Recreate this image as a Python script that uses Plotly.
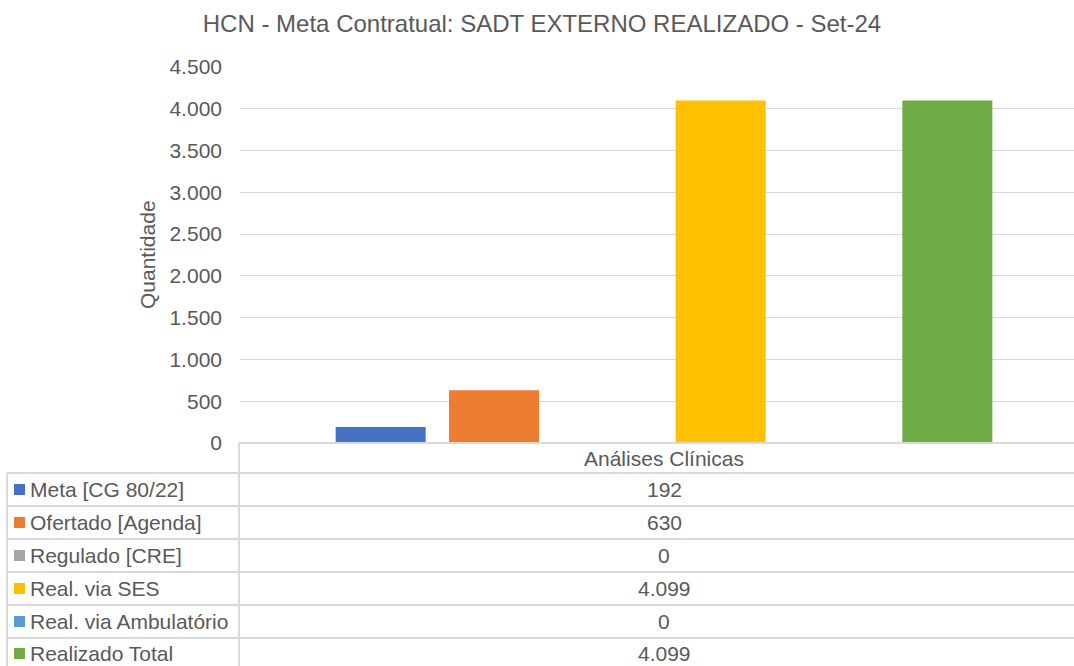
import plotly.graph_objects as go

# ---- data ----
category = "Análises Clínicas"
series_names = ["Meta [CG 80/22]", "Ofertado [Agenda]", "Regulado [CRE]",
                "Real. via SES", "Real. via Ambulatório", "Realizado Total"]
series_values = [192, 630, 0, 4099, 0, 4099]
series_colors = ["#4472C4", "#ED7D31", "#A5A5A5", "#FFC000", "#5B9BD5", "#70AD47"]
y_tick_values = [0, 500, 1000, 1500, 2000, 2500, 3000, 3500, 4000, 4500]
title_text = "HCN - Meta Contratual: SADT EXTERNO REALIZADO - Set-24"
y_title = "Quantidade"

W, H = 1074, 666
L, R, T, B = 240, 0, 67, 223
PW, PH = W - L - R, H - T - B
FONT = "Liberation Sans, Arial, sans-serif"
TXT = "#595959"
LINE = "#D9D9D9"
FS = 21


def px(x):
    return (x - L) / PW


def py(y):
    return (H - B - y) / PH


def fmt(v):
    return f"{v:,}".replace(",", ".")


fig = go.Figure()
for name, val, col in zip(series_names, series_values, series_colors):
    fig.add_trace(go.Bar(x=[category], y=[val], name=name, marker_color=col,
                         marker_line_width=0, showlegend=False,
                         hovertemplate=name + ": %{y}<extra></extra>"))

shapes = []
annotations = []

# table horizontal lines
row_lines = [473, 506, 539, 572, 605, 638]
shapes.append(dict(type="line", xref="paper", yref="paper", x0=px(239), x1=1,
                   y0=py(443), y1=py(443), line=dict(color=LINE, width=2)))
for yl in row_lines:
    shapes.append(dict(type="line", xref="paper", yref="paper", x0=px(7), x1=1,
                       y0=py(yl), y1=py(yl), line=dict(color=LINE, width=2)))
# vertical lines
shapes.append(dict(type="line", xref="paper", yref="paper", x0=px(239), x1=px(239),
                   y0=py(443), y1=py(668), line=dict(color=LINE, width=2)))
shapes.append(dict(type="line", xref="paper", yref="paper", x0=px(7), x1=px(7),
                   y0=py(473), y1=py(668), line=dict(color=LINE, width=2)))

# header text
annotations.append(dict(x=0, y=py(458), xref="x", yref="paper", text=category,
                        showarrow=False, xanchor="center", yanchor="middle",
                        font=dict(family=FONT, size=FS, color=TXT)))

row_centers = [489.5, 522.5, 555.5, 588.5, 621.5, 653.5]
for name, val, col, yc in zip(series_names, series_values, series_colors, row_centers):
    shapes.append(dict(type="rect", xref="paper", yref="paper",
                       x0=px(14), x1=px(25), y0=py(yc + 5.5), y1=py(yc - 5.5),
                       fillcolor=col, line=dict(width=0)))
    annotations.append(dict(x=px(28), y=py(yc), xref="paper", yref="paper", text=name,
                            showarrow=False, xanchor="left", yanchor="middle",
                            font=dict(family=FONT, size=FS, color=TXT)))
    annotations.append(dict(x=0, y=py(yc), xref="x", yref="paper", text=fmt(val),
                            showarrow=False, xanchor="center", yanchor="middle",
                            font=dict(family=FONT, size=FS, color=TXT)))

# y-axis title
annotations.append(dict(x=px(147), y=py(255), xref="paper", yref="paper", text=y_title,
                        textangle=-90, showarrow=False, xanchor="center", yanchor="middle",
                        font=dict(family=FONT, size=FS, color=TXT)))

U = 848
fig.update_layout(
    width=W, height=H,
    margin=dict(l=L, r=R, t=T, b=B, autoexpand=False),
    paper_bgcolor="white", plot_bgcolor="white",
    separators=",.",
    barmode="group", bargap=1 - 680 / U, bargroupgap=1 - 90 / 113.3,
    title=dict(text=title_text, x=542 / W, xanchor="center", y=1 - 24 / H,
               yanchor="middle", xref="container", yref="container",
               font=dict(family=FONT, size=24, color=TXT)),
    xaxis=dict(range=[-0.5, -0.5 + PW / U], showticklabels=False, showgrid=False,
               zeroline=False, showline=False, ticks=""),
    yaxis=dict(range=[0, 4500], tickvals=y_tick_values,
               ticktext=[fmt(v) for v in y_tick_values],
               showgrid=True, gridcolor=LINE, gridwidth=1, zeroline=False,
               showline=False, ticks="", ticklabelstandoff=17,
               tickfont=dict(family=FONT, size=FS, color=TXT)),
    shapes=shapes, annotations=annotations,
    font=dict(family=FONT, color=TXT),
)

fig.write_html("out.html", config={"displayModeBar": False},
               post_script="document.body.style.margin='0';")
